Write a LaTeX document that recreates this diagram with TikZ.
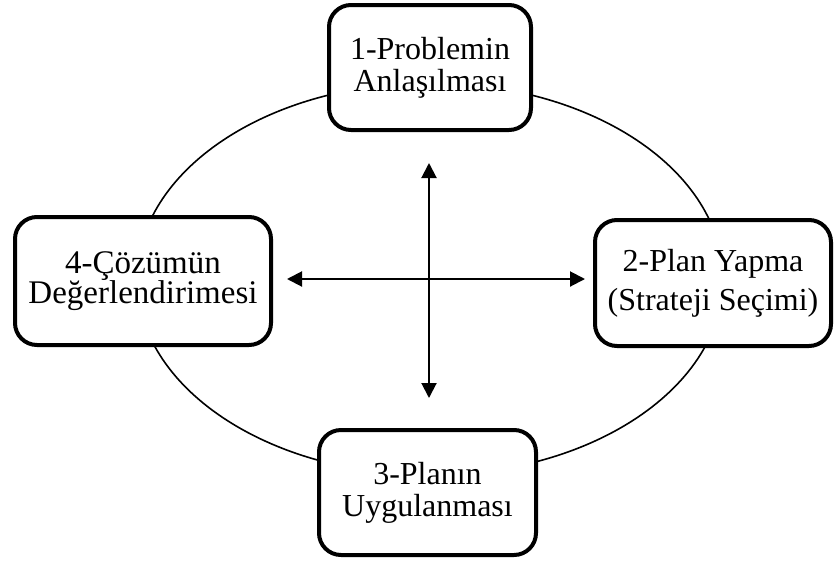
\documentclass[tikz,border=0pt]{standalone}
\usepackage{fontspec}
\setmainfont{Liberation Serif}
\usetikzlibrary{arrows.meta}
\begin{document}
\begin{tikzpicture}[x=1pt,y=-1pt,
  stepbox/.style={draw=black, line width=4pt, rounded corners=22pt, fill=white,
    align=center, inner sep=0pt},
  link/.style={line width=2pt, {Triangle[length=15pt,width=15pt]}-{Triangle[length=15pt,width=15pt]}},
  cyc/.style={line width=1.6pt}]
\useasboundingbox (0,0) rectangle (835,563);
\draw[cyc] (430,279) ellipse [x radius=293, y radius=196];
\node[stepbox, minimum width=202pt, minimum height=125pt,
  font=\fontsize{32}{32}\selectfont] (p1) at (430,67.5) {1-Problemin\\Anlaşılması};
\node[stepbox, minimum width=236pt, minimum height=126pt,
  font=\fontsize{32}{39}\selectfont] (p2) at (713,283) {2-Plan Yapma\\(Strateji Seçimi)};
\node[stepbox, minimum width=217pt, minimum height=125pt,
  font=\fontsize{32}{32}\selectfont] (p3) at (427.5,492.5) {3-Planın\\Uygulanması};
\node[stepbox, minimum width=256pt, minimum height=128pt,
  font=\fontsize{33}{30}\selectfont] (p4) at (143,281) {4-Çözümün\\Değerlendirimesi};
\coordinate (vt) at (429,163);
\coordinate (vb) at (429,398);
\coordinate (hl) at (287,279);
\coordinate (hr) at (585,279);
\draw[link] (vt) -- (vb);
\draw[link] (hl) -- (hr);
\end{tikzpicture}
\end{document}
